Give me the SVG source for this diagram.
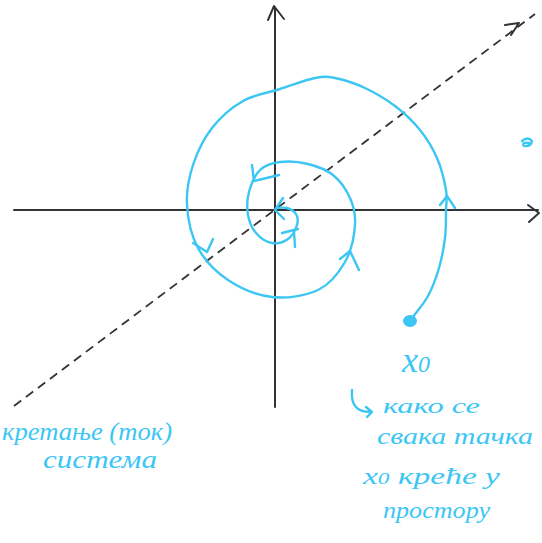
<svg xmlns="http://www.w3.org/2000/svg" width="542" height="543" viewBox="0 0 542 543">
<style>
.ax{stroke:#333;stroke-width:2;fill:none;stroke-linecap:round;stroke-linejoin:round}
.ds{stroke:#333;stroke-width:1.8;fill:none;stroke-dasharray:9 6}
.bl{stroke:#3cc6f4;stroke-width:2.4;fill:none;stroke-linecap:round;stroke-linejoin:round}
.tx{fill:#3cc6f4;font-family:"Liberation Serif",serif;font-style:italic}
</style>
<rect width="542" height="543" fill="#fff"/>
<g id="axes">
<path class="ax" d="M14,210 L538,210"/>
<path class="ax" d="M528,205 L539,213 L529,222"/>
<path class="ax" d="M275,8 L275,407"/>
<path class="ax" d="M268,20 L274,6 L284,19"/>
</g>
<g id="connectors">
<path class="ds" d="M14,406 L535,14"/>
<path class="ax" d="M505,25 L519,23 L511,35"/>
<path class="bl" d="M412,318 C414.7,314.3 423.5,304.3 428,296 C432.5,287.7 436.2,277.7 439,268 C441.8,258.3 443.8,247.7 445,238 C446.2,228.3 445.8,218 446,210 C446.2,202 447.5,198.7 446,190 C444.5,181.3 441.3,168 437,158 C432.7,148 427,138.7 420,130 C413,121.3 404.2,113 395,106 C385.8,99 375,92.7 365,88 C355,83.3 343.3,79.7 335,78 C326.7,76.3 324.2,76.2 315,78 C305.8,79.8 292,85.2 280,89 C268,92.8 254.3,94.5 243,101 C231.7,107.5 220.3,117.3 212,128 C203.7,138.7 197.2,152.2 193,165 C188.8,177.8 186.2,191.2 187,205 C187.8,218.8 191.2,235.5 198,248 C204.8,260.5 215.7,271.8 228,280 C240.3,288.2 257,295.3 272,297 C287,298.7 305.8,295.8 318,290 C330.2,284.2 338.8,272.8 345,262 C351.2,251.2 354.2,235.7 355,225 C355.8,214.3 353.7,206.3 350,198 C346.3,189.7 340,180.7 333,175 C326,169.3 316.8,166.2 308,164 C299.2,161.8 288,161 280,162 C272,163 265.2,165 260,170 C254.8,175 251,184.5 249,192 C247,199.5 246.8,208.2 248,215 C249.2,221.8 252,228.3 256,233 C260,237.7 266.7,242 272,243 C277.3,244 283.8,242 288,239 C292.2,236 295.7,229.2 297,225 C298.3,220.8 297.7,216.8 296,214 C294.3,211.2 290.2,209 287,208 C283.8,207 278.7,208 277,208"/>
<path class="bl" d="M440,205 L447,196 L455,208"/>
<path class="bl" d="M193,243 L207,252 L213,239"/>
<path class="bl" d="M340,259 L350,251 L359,270"/>
<path class="bl" d="M252,165 L254,181 L279,175"/>
<path class="bl" d="M282,233 L298,229 M295,247 L294,232"/>
<path class="bl" d="M283,198 L275,210 L284,219"/>
<path class="bl" d="M352,390 Q350,412 370,412 M366,407 L372,412 L367,417"/>
</g>
<g id="start">
<ellipse cx="410" cy="321" rx="7" ry="6" fill="#3cc6f4"/>
<path class="bl" d="M522,141 Q528,136 532,141 Q531,147 524,146 Q521,142 529,143"/>
</g>
<g id="labels">
<text class="tx" x="402" y="372" font-size="36">x<tspan font-size="24">0</tspan></text>
<text class="tx" x="2" y="440" font-size="26" textLength="170" lengthAdjust="spacingAndGlyphs">кретање (ток)</text>
<text class="tx" x="43" y="468" font-size="26" textLength="114" lengthAdjust="spacingAndGlyphs">система</text>
<text class="tx" x="383" y="413" font-size="21" textLength="97" lengthAdjust="spacingAndGlyphs">како се</text>
<text class="tx" x="377" y="444" font-size="23" textLength="156" lengthAdjust="spacingAndGlyphs">свака тачка</text>
<text class="tx" x="363" y="484" font-size="23" textLength="137" lengthAdjust="spacingAndGlyphs">x<tspan font-size="16">0</tspan> креће у</text>
<text class="tx" x="383" y="518" font-size="23" textLength="107" lengthAdjust="spacingAndGlyphs">простору</text>
</g>
</svg>
